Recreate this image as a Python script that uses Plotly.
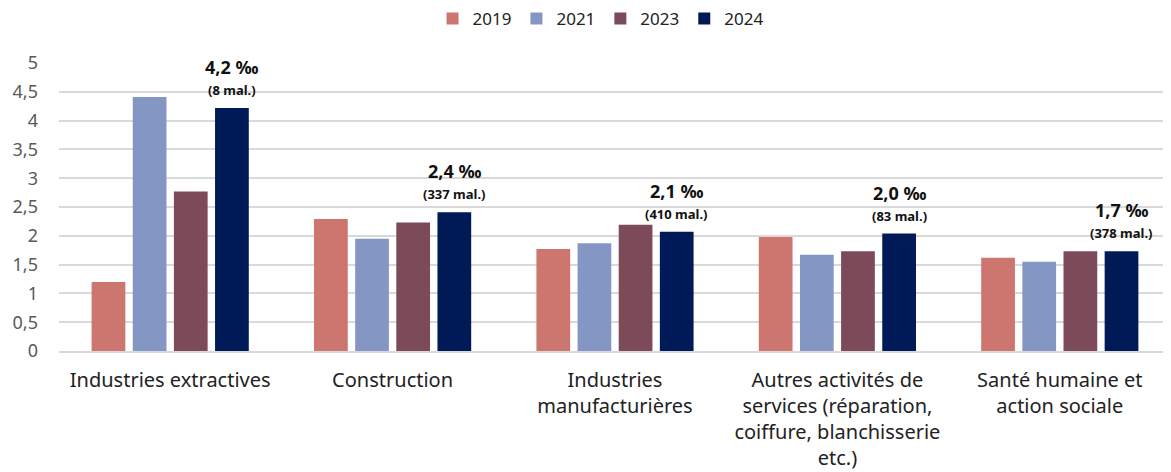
import plotly.graph_objects as go

categories = [
    "Industries extractives",
    "Construction",
    "Industries<br>manufacturières",
    "Autres activités de<br>services (réparation,<br>coiffure, blanchisserie<br>etc.)",
    "Santé humaine et<br>action sociale",
]
years = ["2019", "2021", "2023", "2024"]
values = {
    "2019": [1.2, 2.29, 1.77, 1.98, 1.62],
    "2021": [4.41, 1.95, 1.87, 1.67, 1.55],
    "2023": [2.77, 2.23, 2.19, 1.73, 1.73],
    "2024": [4.22, 2.41, 2.07, 2.04, 1.73],
}
rate_labels = ["4,2 ‰", "2,4 ‰", "2,1 ‰", "2,0 ‰", "1,7 ‰"]
case_labels = ["(8 mal.)", "(337 mal.)", "(410 mal.)", "(83 mal.)", "(378 mal.)"]
colors = {"2019": "#CD7670", "2021": "#8497C4", "2023": "#7D4A5A", "2024": "#001A57"}

FONT = "Noto Sans"
# the page body has an 8px margin, so the figure is made 8px smaller
W, H = 1163, 464
BARGAP, GROUPGAP = 0.26, 0.18

fig = go.Figure()
for y in years:
    fig.add_trace(go.Bar(
        x=categories, y=values[y], name=y,
        marker=dict(color=colors[y], line=dict(width=0)),
        hoverinfo="skip",
    ))

# labels above the 2024 bars: offset of the last bar in each group, in px
plot_w = W - 51
slot = (1 - BARGAP) / len(years)
shift = 1.5 * slot * plot_w / len(categories)
for cat, v, r, c in zip(categories, values["2024"], rate_labels, case_labels):
    fig.add_annotation(x=cat, y=v, text=f"<b>{r}</b>", showarrow=False,
                       xshift=shift, yshift=41, yanchor="middle",
                       font=dict(size=18, color="#111111"))
    fig.add_annotation(x=cat, y=v, text=f"<b>{c}</b>", showarrow=False,
                       xshift=shift, yshift=18, yanchor="middle",
                       font=dict(size=13, color="#111111"))

fig.update_layout(
    width=W, height=H,
    barmode="group", bargap=BARGAP, bargroupgap=GROUPGAP,
    plot_bgcolor="white", paper_bgcolor="white",
    separators=", ",
    font=dict(family=FONT, size=18, color="#222222"),
    margin=dict(l=51, r=0, t=55, b=121),
    legend=dict(
        orientation="h", x=0.487, xanchor="center",
        y=1 - 11 / H, yref="container", yanchor="middle",
        font=dict(size=17, color="#222222"),
        itemwidth=30, traceorder="normal",
    ),
)
fig.update_yaxes(
    range=[0, 5], dtick=0.5, showgrid=True, gridcolor="#D9D9D9", gridwidth=2,
    tickfont=dict(size=18, color="#595959"), zeroline=False, ticks="",
    ticklabelstandoff=20,
)
fig.update_xaxes(
    showline=True, linecolor="#D9D9D9", linewidth=2, ticks="",
    tickfont=dict(size=20, color="#222222"), ticklabelstandoff=10,
)

fig.write_html("out.html")
